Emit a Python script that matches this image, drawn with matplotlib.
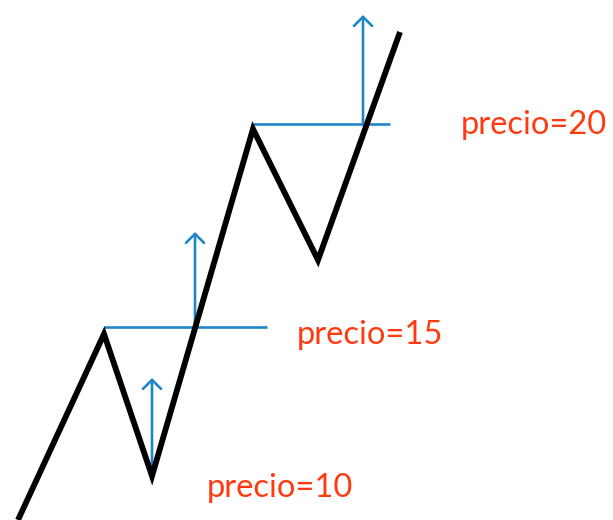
import matplotlib
matplotlib.use("Agg")
import matplotlib.pyplot as plt

# Zigzag price path (x = time position, y = price level in chart units, top = high)
path_x = [18, 104, 152, 253, 318, 400]
path_y = [0, 186, 44, 391, 260, 488]

# Resistance levels (horizontal lines)
level_y = [193, 396]
level_x0 = [104, 253]
level_x1 = [267, 390]

# Breakout arrows
arrow_x = [152, 195, 363]
arrow_y0 = [44, 193, 396]
arrow_y1 = [142, 288, 505]

# Labels
labels = ["precio=10", "precio=15", "precio=20"]
label_x = [207, 297, 461]
label_y = [32, 185, 395]

BLUE = "#1f87c9"
RED = "#ff3a10"

fig = plt.figure(figsize=(6.13, 5.2), dpi=100)
ax = fig.add_axes([0, 0, 1, 1])
ax.set_xlim(0, 613)
ax.set_ylim(0, 520)
ax.axis("off")

for y, x0, x1 in zip(level_y, level_x0, level_x1):
    ax.plot([x0, x1], [y, y], color=BLUE, lw=1.9, solid_capstyle="butt", zorder=2)

for x, y0, y1 in zip(arrow_x, arrow_y0, arrow_y1):
    ax.annotate("", xy=(x, y1), xytext=(x, y0),
                arrowprops=dict(arrowstyle="->,head_length=0.65,head_width=0.65",
                                color=BLUE, lw=1.9, shrinkA=0, shrinkB=0),
                zorder=2)

ax.plot(path_x, path_y, color="black", lw=4.2, solid_joinstyle="miter",
        solid_capstyle="butt", zorder=3)

for t, x, y in zip(labels, label_x, label_y):
    ax.text(x, y, t, color=RED, fontsize=23.5, family="Lato",
            ha="left", va="center")

fig.savefig("out.png", dpi=100)
